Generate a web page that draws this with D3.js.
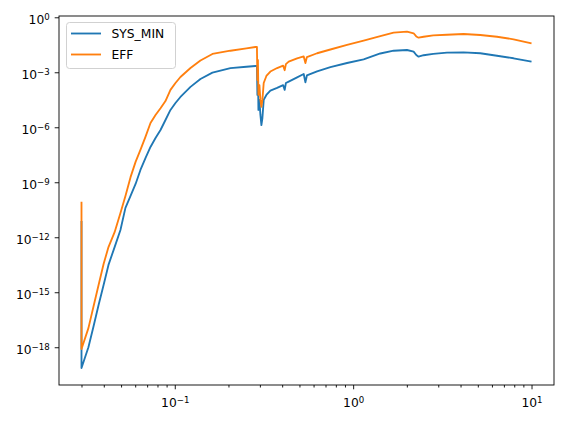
<!DOCTYPE html>
<html>
<head>
<meta charset="utf-8">
<script src="https://cdn.jsdelivr.net/npm/d3@7"></script>
<style>
  body { margin: 0; background: #fff; }
  svg { display: block; font-family: "DejaVu Sans", sans-serif; }
</style>
</head>
<body>
<div id="chart"></div>
<script>
// x values shared by both series
var xs = [0.0300, 0.0300, 0.0328, 0.0350, 0.0374, 0.0399, 0.0425, 0.0460, 0.0496, 0.0529,
  0.0565, 0.0603, 0.0642, 0.0685, 0.0731, 0.0780, 0.0832, 0.0887, 0.0946, 0.1009,
  0.1076, 0.1225, 0.1393, 0.1626, 0.2051, 0.2522, 0.2833, 0.2888, 0.2906, 0.2925,
  0.2944, 0.2982, 0.3021, 0.3060, 0.3100, 0.3152, 0.3263, 0.3435, 0.3747, 0.4050,
  0.4133, 0.4198, 0.4352, 0.4851, 0.5283, 0.5400, 0.5505, 0.6278, 0.7455, 0.9244,
  1.145, 1.420, 1.686, 2.004, 2.183, 2.259, 2.327, 2.483, 2.812, 3.357,
  4.159, 5.16, 6.40, 7.93, 10.0];

var sysMin = [7.7e-12, 7.4e-20, 1.0e-18, 1.3e-17, 2.0e-16, 2.5e-15, 3.1e-14, 2.9e-13, 2.5e-12, 4.0e-11,
  1.8e-10, 8.1e-10, 4.7e-9, 2.1e-8, 8.4e-8, 2.6e-7, 7.1e-7, 2.5e-6, 8.8e-6, 2.1e-5,
  4.5e-5, 1.6e-4, 4.3e-4, 9.5e-4, 1.7e-3, 2.0e-3, 2.2e-3, 2.2e-3, 5.8e-5, 1.3e-3,
  8.8e-6, 3.1e-5, 4.7e-6, 1.3e-6, 3.2e-6, 3.1e-5, 5.8e-5, 1.0e-4, 1.4e-4, 2.0e-4,
  1.1e-4, 2.6e-4, 3.1e-4, 5.3e-4, 8.1e-4, 2.8e-4, 6.7e-4, 1.13e-3, 1.9e-3, 3.2e-3,
  5.1e-3, 1.06e-2, 1.5e-2, 1.64e-2, 1.33e-2, 8.8e-3, 7.1e-3, 8.5e-3, 1.0e-2, 1.17e-2,
  1.23e-2, 1.09e-2, 8.0e-3, 5.8e-3, 3.8e-3];

var eff = [8.7e-11, 8.0e-19, 1.1e-17, 1.6e-16, 2.5e-15, 3.5e-14, 2.9e-13, 1.9e-12, 2.1e-11, 1.8e-10,
  1.9e-9, 1.3e-8, 5.8e-8, 3.0e-7, 1.7e-6, 4.7e-6, 1.1e-5, 2.7e-5, 1.1e-4, 2.6e-4,
  5.5e-4, 1.7e-3, 4.4e-3, 1.0e-2, 1.5e-2, 2.0e-2, 2.4e-2, 2.4e-2, 3.8e-4, 4.7e-3,
  5.8e-5, 2.0e-4, 3.1e-5, 1.3e-5, 3.1e-5, 2.6e-4, 6.3e-4, 1.1e-3, 1.7e-3, 2.3e-3,
  1.3e-3, 2.8e-3, 3.8e-3, 5.8e-3, 7.3e-3, 3.2e-3, 6.8e-3, 1.09e-2, 1.75e-2, 3.1e-2,
  5.3e-2, 9.5e-2, 0.145, 0.164, 0.134, 0.090, 0.077, 0.087, 0.104, 0.112,
  0.123, 0.108, 0.087, 0.063, 0.038];

var seriesNames = ["SYS_MIN", "EFF"];
var seriesColors = ["#1f77b4", "#ff7f0e"];
var xMajor = [0.1, 1, 10];
var yMajor = [1, 1e-3, 1e-6, 1e-9, 1e-12, 1e-15, 1e-18];

var W = 565, H = 423;
var margin = {top: 16, right: 11, bottom: 38, left: 59};
var iw = W - margin.left - margin.right,
    ih = H - margin.top - margin.bottom;

var svg = d3.select("#chart").append("svg")
    .attr("width", W).attr("height", H);
var g = svg.append("g")
    .attr("transform", "translate(" + margin.left + "," + margin.top + ")");

// log scales with matplotlib-like 5% margins
var x = d3.scaleLog().domain([Math.pow(10, -1.649), Math.pow(10, 1.126)]).range([0, iw]);
var y = d3.scaleLog().domain([Math.pow(10, -20.06), Math.pow(10, 0.07)]).range([ih, 0]);

// minor x ticks (2..9 times each decade)
var xMinor = [];
[0.01, 0.1, 1].forEach(function(d) {
  for (var k = 2; k <= 9; k++) {
    var v = d * k;
    if (v >= x.domain()[0] && v <= x.domain()[1]) xMinor.push(v);
  }
});

function sup(sel, vals) {
  sel.selectAll(".tick text").each(function(d) {
    var e = Math.round(Math.log10(d));
    var t = d3.select(this).text("");
    t.append("tspan").text("10");
    t.append("tspan").attr("dy", "-0.5em").attr("font-size", "8.6px")
      .text(e < 0 ? "\u2212" + (-e) : e);
  });
}

var xAxisMinor = g.append("g").attr("transform", "translate(0," + ih + ")")
    .call(d3.axisBottom(x).tickValues(xMinor).tickSize(2.5).tickFormat(""));
var xAxis = g.append("g").attr("transform", "translate(0," + ih + ")")
    .call(d3.axisBottom(x).tickValues(xMajor).tickSize(4.3).tickPadding(5));
var yAxis = g.append("g")
    .call(d3.axisLeft(y).tickValues(yMajor).tickSize(4.3).tickPadding(5));

[xAxis, yAxis, xAxisMinor].forEach(function(a) {
  a.select(".domain").remove();
  a.selectAll(".tick line").attr("stroke", "#000").attr("stroke-width", 0.9);
  a.selectAll(".tick text").attr("font-size", "12.3px").attr("fill", "#000")
    .attr("font-family", "DejaVu Sans, sans-serif");
});
sup(xAxis, xMajor);
sup(yAxis, yMajor);
xAxis.selectAll(".tick text").attr("dy", "1.05em");
yAxis.selectAll(".tick text").attr("dy", "0.5em");

// clip + lines
svg.append("clipPath").attr("id", "clip").append("rect")
    .attr("width", iw).attr("height", ih);

var line = d3.line()
    .x(function(d) { return x(d[0]); })
    .y(function(d) { return y(d[1]); });

[sysMin, eff].forEach(function(vals, i) {
  g.append("path")
    .datum(xs.map(function(xv, j) { return [xv, vals[j]]; }))
    .attr("clip-path", "url(#clip)")
    .attr("fill", "none")
    .attr("stroke", seriesColors[i])
    .attr("stroke-width", 1.84)
    .attr("stroke-linejoin", "round")
    .attr("d", line);
});

// frame
g.append("rect").attr("width", iw).attr("height", ih)
  .attr("fill", "none").attr("stroke", "#000").attr("stroke-width", 0.9);

// legend
var leg = g.append("g").attr("transform", "translate(7.5,6.5)");
leg.append("rect").attr("width", 109).attr("height", 46).attr("rx", 3)
  .attr("fill", "#fff").attr("fill-opacity", 0.8)
  .attr("stroke", "#cccccc").attr("stroke-width", 0.9);
seriesNames.forEach(function(name, i) {
  var yy = 11 + i * 21;
  leg.append("line").attr("x1", 4.5).attr("x2", 34.5).attr("y1", yy).attr("y2", yy)
    .attr("stroke", seriesColors[i]).attr("stroke-width", 1.84);
  leg.append("text").attr("x", 45).attr("y", yy).attr("dy", "0.36em")
    .attr("font-size", "12.3px").attr("fill", "#000").text(name);
});
</script>
</body>
</html>
